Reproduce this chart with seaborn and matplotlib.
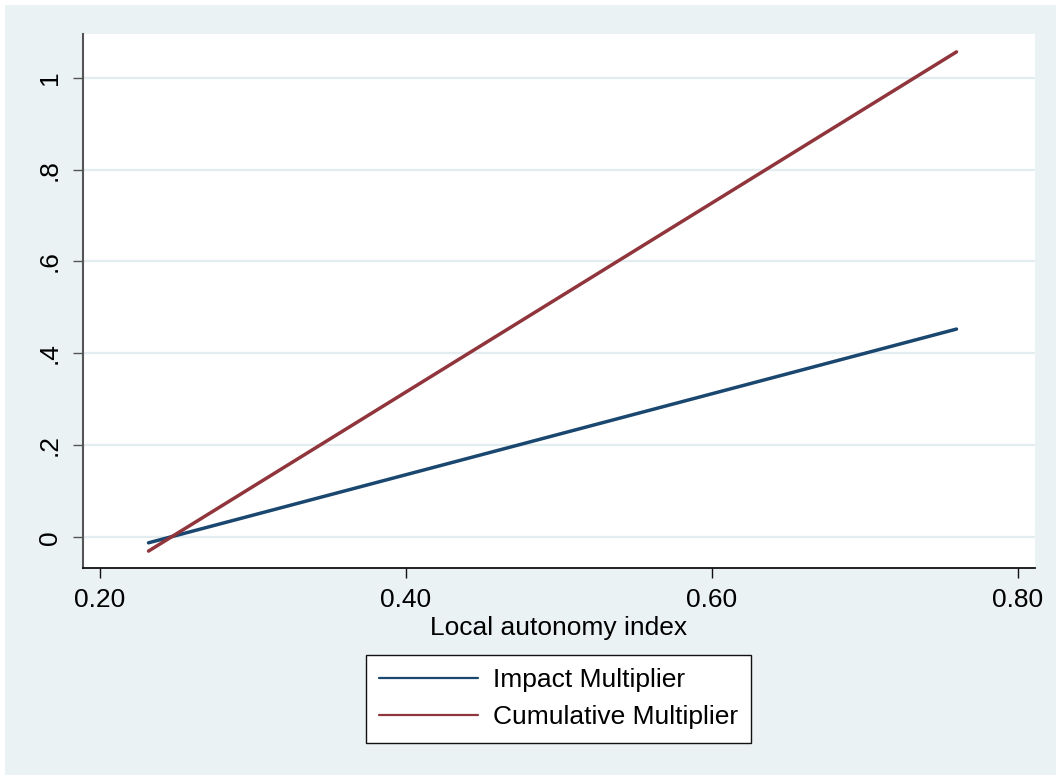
import matplotlib
matplotlib.use("Agg")
import matplotlib.pyplot as plt
from matplotlib.patches import Rectangle
import pandas as pd
import seaborn as sns

# Multiplier estimates along the local autonomy index
autonomy = [0.232, 0.760]
impact = [-0.012, 0.453]
cumulative = [-0.030, 1.056]

series_names = ["Impact Multiplier", "Cumulative Multiplier"]
series_colors = ["#1A476F", "#90353B"]

x_ticks = [0.2, 0.4, 0.6, 0.8]
x_tick_labels = ["0.20", "0.40", "0.60", "0.80"]
y_ticks = [0, 0.2, 0.4, 0.6, 0.8, 1.0]
y_tick_labels = ["0", ".2", ".4", ".6", ".8", "1"]

df = pd.concat([
    pd.DataFrame({"autonomy": autonomy, "value": impact, "series": series_names[0]}),
    pd.DataFrame({"autonomy": autonomy, "value": cumulative, "series": series_names[1]}),
])

sns.set_theme(style="white")
plt.rcParams["font.family"] = ["Liberation Sans", "DejaVu Sans"]
plt.rcParams["text.color"] = "black"
plt.rcParams["axes.labelcolor"] = "black"
plt.rcParams["xtick.labelcolor"] = "black"
plt.rcParams["ytick.labelcolor"] = "black"

bg = "#EAF2F3"
fig = plt.figure(figsize=(10.56, 7.75), dpi=100, facecolor="white")
fig.patches.append(Rectangle((5 / 1056, 0), 1, 1 - 5 / 775, transform=fig.transFigure,
                             facecolor=bg, edgecolor="none", zorder=-10))

ax = fig.add_axes([82.7 / 1056, 1 - 567.5 / 775, (1035 - 82.7) / 1056, (567.5 - 33.5) / 775])
ax.set_facecolor("white")

sns.lineplot(data=df, x="autonomy", y="value", hue="series", hue_order=series_names,
             palette=series_colors, linewidth=2.5, ax=ax, legend=False)

ax.set_xlim(0.189, 0.8113)
ax.set_ylim(-0.0657, 1.096)

ax.set_xticks(x_ticks)
ax.set_xticklabels(x_tick_labels)
ax.set_yticks(y_ticks)
ax.set_yticklabels(y_tick_labels, rotation=90, va="center")

ax.yaxis.grid(True, color="#E3ECEF", linewidth=1.6)
ax.xaxis.grid(False)
ax.set_axisbelow(True)

for side in ["top", "right"]:
    ax.spines[side].set_visible(False)
ax.spines["left"].set_color("#555555")
ax.spines["left"].set_linewidth(1.5)
ax.spines["bottom"].set_color("#111111")
ax.spines["bottom"].set_linewidth(1.3)

ax.tick_params(axis="x", length=7, width=1.0, color="#111111", labelsize=19, pad=8, bottom=True)
ax.tick_params(axis="y", length=7, width=1.0, color="#555555", labelsize=19, pad=8, left=True)

ax.set_xlabel("Local autonomy index", fontsize=19, labelpad=3)
ax.set_ylabel("")

handles = [plt.Line2D([], [], color=c, linewidth=1.6) for c in series_colors]
leg = fig.legend(handles, series_names, loc="upper center",
                 bbox_to_anchor=(558.5 / 1056, 1 - 655 / 775), fontsize=19,
                 frameon=True, fancybox=False, shadow=False,
                 handlelength=3.75, handletextpad=0.55, borderpad=0.5,
                 labelspacing=0.5, borderaxespad=0)
leg.get_frame().set_edgecolor("#111111")
leg.get_frame().set_linewidth(1.0)
leg.get_frame().set_facecolor("white")
leg.get_frame().set_alpha(1)

fig.savefig("out.png", dpi=100, facecolor=fig.get_facecolor())
